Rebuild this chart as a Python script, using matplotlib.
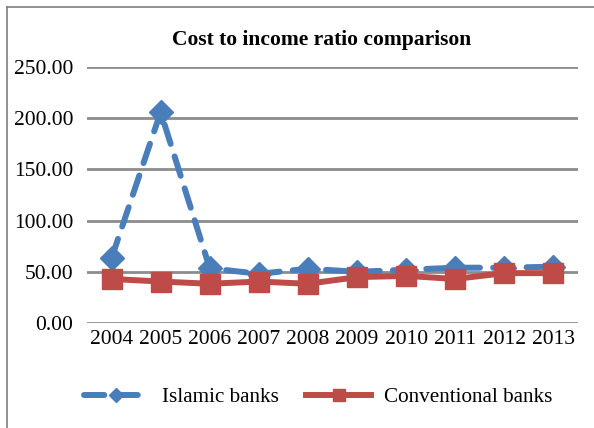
import matplotlib.pyplot as plt
from matplotlib.lines import Line2D

years = ["2004", "2005", "2006", "2007", "2008", "2009", "2010", "2011", "2012", "2013"]
islamic = [63.3, 206.0, 53.5, 48.0, 53.0, 50.0, 52.0, 54.0, 54.0, 55.0]
conventional = [43.0, 40.5, 38.3, 40.5, 38.3, 44.8, 46.0, 43.0, 48.7, 48.7]
y_ticks = [0, 50, 100, 150, 200, 250]

plt.rcParams['font.family'] = ['Liberation Serif', 'DejaVu Serif']

fig = plt.figure(figsize=(5.94, 4.28), dpi=100)
ax = fig.add_axes([87 / 594, 1 - 323 / 428, 491 / 594, 256 / 428])

x = list(range(len(years)))
ax.plot(x, islamic, color='#4a7ebb', lw=4.3, ls=(0, (3.4, 2.2)), dash_capstyle='round',
        marker='D', ms=12, label='Islamic banks', zorder=3)
ax.plot(x, conventional, color='#be4b48', lw=4.3, marker='s', ms=14,
        label='Conventional banks', zorder=4)

ax.set_xlim(-0.5, len(years) - 0.5)
ax.set_ylim(0, 250)
ax.set_yticks(y_ticks)
ax.set_yticklabels([f"{v:.2f}" for v in y_ticks], fontsize=15.5)
ax.set_xticks(x)
ax.set_xticklabels(years, fontsize=15.5)
ax.tick_params(length=0, pad=5)
ax.tick_params(axis='y', pad=10)
ax.grid(axis='y', color='#8c8c8c', lw=2)
ax.set_axisbelow(True)
for s in ax.spines.values():
    s.set_visible(False)

fig.text(322 / 594, 1 - 40 / 428, "Cost to income ratio comparison", ha='center', va='center',
         fontsize=15.5, fontweight='bold')

fig.legend(loc='center', bbox_to_anchor=(318 / 594, 1 - 397 / 428), ncol=2, frameon=False,
           fontsize=15.2, handlelength=3.1, columnspacing=1.3, handletextpad=0.6,
           markerscale=0.6)

# outer border
fig.add_artist(Line2D([7 / 594, 7 / 594], [0, 1 - 7 / 428], color='#7f7f7f', lw=1.2))
fig.add_artist(Line2D([7 / 594, 1], [1 - 7 / 428, 1 - 7 / 428], color='#7f7f7f', lw=1.2))

fig.savefig("out.png", dpi=100)
